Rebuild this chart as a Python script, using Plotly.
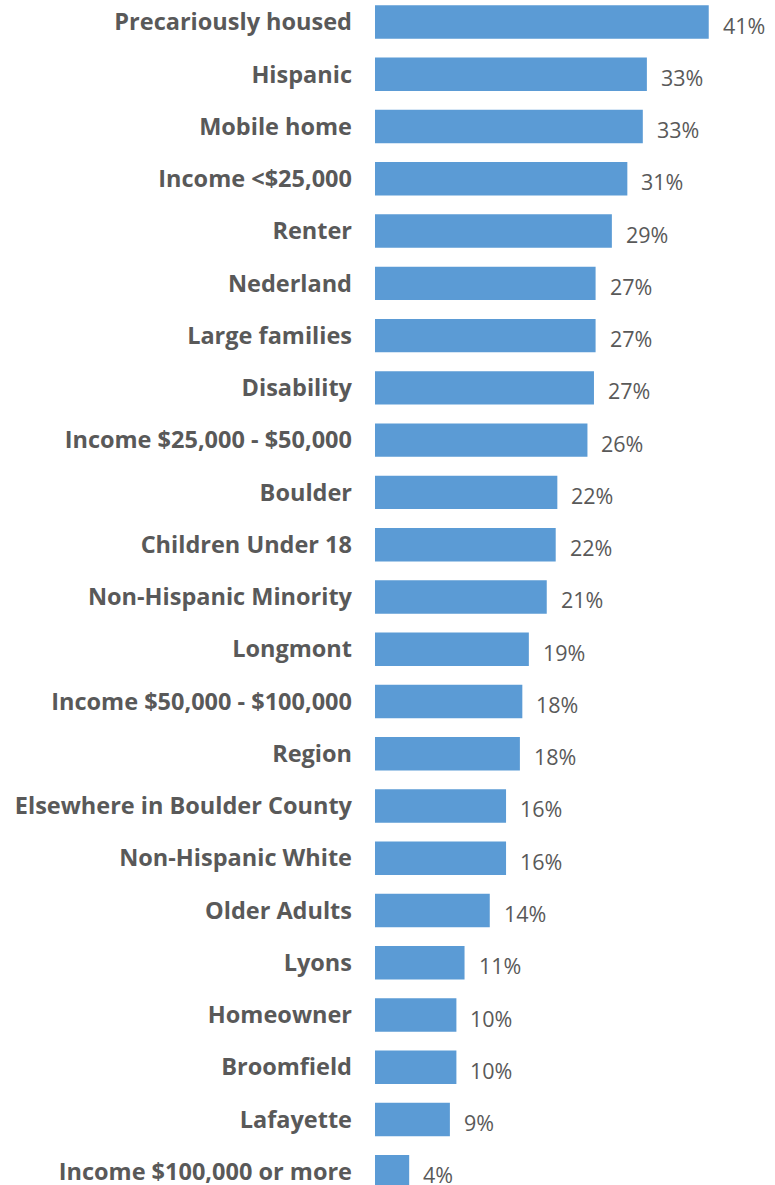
import plotly.graph_objects as go

categories = [
    "Precariously housed", "Hispanic", "Mobile home", "Income <$25,000", "Renter",
    "Nederland", "Large families", "Disability", "Income $25,000 - $50,000", "Boulder",
    "Children Under 18", "Non-Hispanic Minority", "Longmont", "Income $50,000 - $100,000",
    "Region", "Elsewhere in Boulder County", "Non-Hispanic White", "Older Adults", "Lyons",
    "Homeowner", "Broomfield", "Lafayette", "Income $100,000 or more",
]
values = [41.0, 33.4, 32.9, 31.0, 29.1, 27.1, 27.1, 26.9, 26.1, 22.4, 22.2, 21.1, 18.9,
          18.1, 17.8, 16.1, 16.1, 14.1, 11.0, 10.0, 10.0, 9.2, 4.2]

BAR = "#5B9BD5"
GREY = "#595959"

fig = go.Figure(go.Bar(
    x=values, y=categories, orientation="h",
    marker=dict(color=BAR, line=dict(width=0)),
    hoverinfo="skip",
))

for c, v in zip(categories, values):
    fig.add_annotation(x=v, y=c, text=f"{v:.0f}%", showarrow=False, xanchor="left",
                       xshift=12, yshift=-3, font=dict(family="Open Sans", size=21.5, color=GREY))

fig.update_layout(
    width=775, height=1185,
    margin=dict(l=375, r=0, t=0, b=0),
    paper_bgcolor="white", plot_bgcolor="white",
    bargap=0.36,
    showlegend=False,
    xaxis=dict(range=[0, 49.14], visible=False, fixedrange=True, automargin=False),
    yaxis=dict(range=[22.253, -0.422], showgrid=False, zeroline=False, showline=False,
               ticks="", ticklabelstandoff=22, automargin=False, fixedrange=True,
               tickfont=dict(family="Open Sans", size=23.5, color=GREY, weight="bold")),
)

fig.write_html("out.html", config={"displayModeBar": False, "staticPlot": True},
               post_script="document.body.style.margin='0';document.body.style.overflow='hidden';")
